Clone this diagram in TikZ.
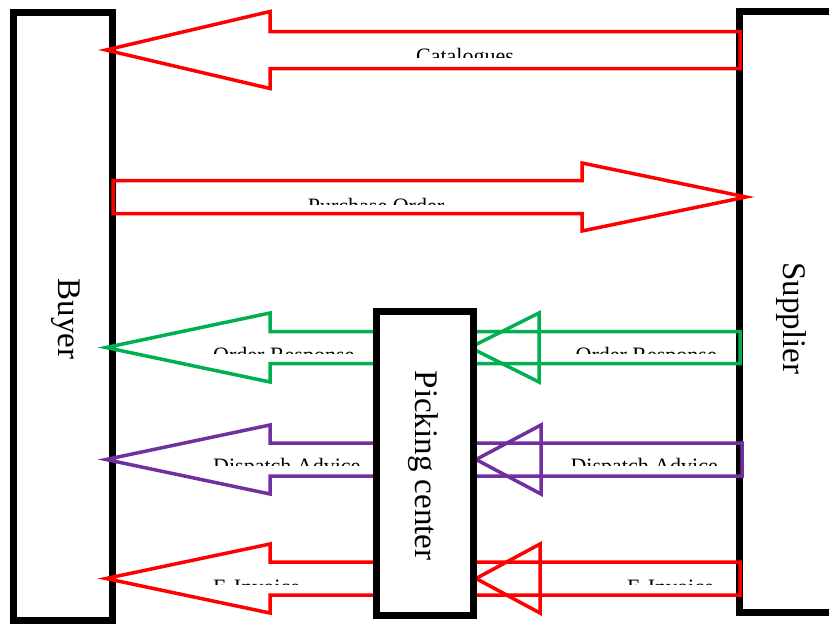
\documentclass[tikz,border=0pt]{standalone}
\usepackage{fontspec}
\setmainfont{Liberation Serif}
\definecolor{msgred}{RGB}{255,0,0}
\definecolor{msggreen}{RGB}{0,176,80}
\definecolor{msgpurple}{RGB}{112,48,160}
% block arrow: colour, tip x, head-base x, tail x, centre y, half shaft, half head
\newcommand{\blockarrow}[7]{%
  \draw[#1, line width=3.5pt, line join=miter]
    (#2,#5) -- (#3,{#5-#7}) -- (#3,{#5-#6}) -- (#4,{#5-#6})
    -- (#4,{#5+#6}) -- (#3,{#5+#6}) -- (#3,{#5+#7}) -- cycle;}
% label whose lower part is cut off: name, anchor, x, cap top y, cut y, text
\newcommand{\cutlabel}[6]{%
  \begin{scope}
    \clip (100,{#4-25}) rectangle (760,#5);
    \node[msglabel, anchor=#2] (#1) at (#3,{#4+14.6}) {#6};
  \end{scope}}
\tikzset{
  party/.style={draw=black, line width=7pt, fill=white, inner sep=0pt},
  partylabel/.style={rotate=-90, anchor=base, inner sep=0pt,
    font=\fontsize{33}{40}\selectfont},
  msglabel/.style={inner sep=0pt, font=\fontsize{22}{26}\selectfont},
}
\begin{document}
\begin{tikzpicture}[x=1pt, y=-1pt]
  \useasboundingbox (0,0) rectangle (829,624);
  \clip (0,0) rectangle (829,624);

  % trading partners
  \node[party, minimum width=99pt, minimum height=608.5pt] (buyer) at (63,316.25) {};
  \node[party, minimum width=161pt, minimum height=601pt] (supplier) at (819.5,312.1) {};
  \node[partylabel] (buyertext) at (58.5,319) {Buyer};
  \node[partylabel] (suppliertext) at (783,318.5) {Supplier};

  % catalogues and purchase order
  \blockarrow{msgred}{106}{270}{740}{50}{18.5}{38.5}
  \cutlabel{catlbl}{base}{465}{49}{57}{Catalogues}
  \blockarrow{msgred}{746}{582}{113}{197}{16.5}{34}
  \cutlabel{polbl}{base}{376}{199}{204}{Purchase Order}

  % messages routed through the picking center
  \blockarrow{msggreen}{106}{270}{539}{347.5}{16}{34.5}
  \blockarrow{msggreen}{470}{539}{740}{347.5}{16}{34.5}
  \cutlabel{orl}{base west}{213}{347.5}{353.5}{Order Response}
  \cutlabel{orr}{base east}{717}{347.5}{353.5}{Order Response}

  \blockarrow{msgpurple}{106}{270}{541}{459.5}{16.5}{34.5}
  \blockarrow{msgpurple}{476}{541}{742}{459.5}{16.5}{34.5}
  \cutlabel{dal}{base west}{213}{459}{465}{Dispatch Advice}
  \cutlabel{dar}{base east}{718}{459}{465}{Dispatch Advice}

  \blockarrow{msgred}{106}{270}{540}{578.5}{16.5}{34.5}
  \blockarrow{msgred}{476}{540}{740}{578.5}{16.5}{34.5}
  \cutlabel{eil}{base west}{213}{580}{584.5}{E-Invoice}
  \cutlabel{eir}{base east}{714}{580}{584.5}{E-Invoice}

  % picking center sits on top of the routed arrows
  \node[party, minimum width=96.5pt, minimum height=304.5pt] (pick) at (424.75,463.25) {};
  \node[partylabel] (picktext) at (415,465.5) {Picking center};
\end{tikzpicture}
\end{document}
